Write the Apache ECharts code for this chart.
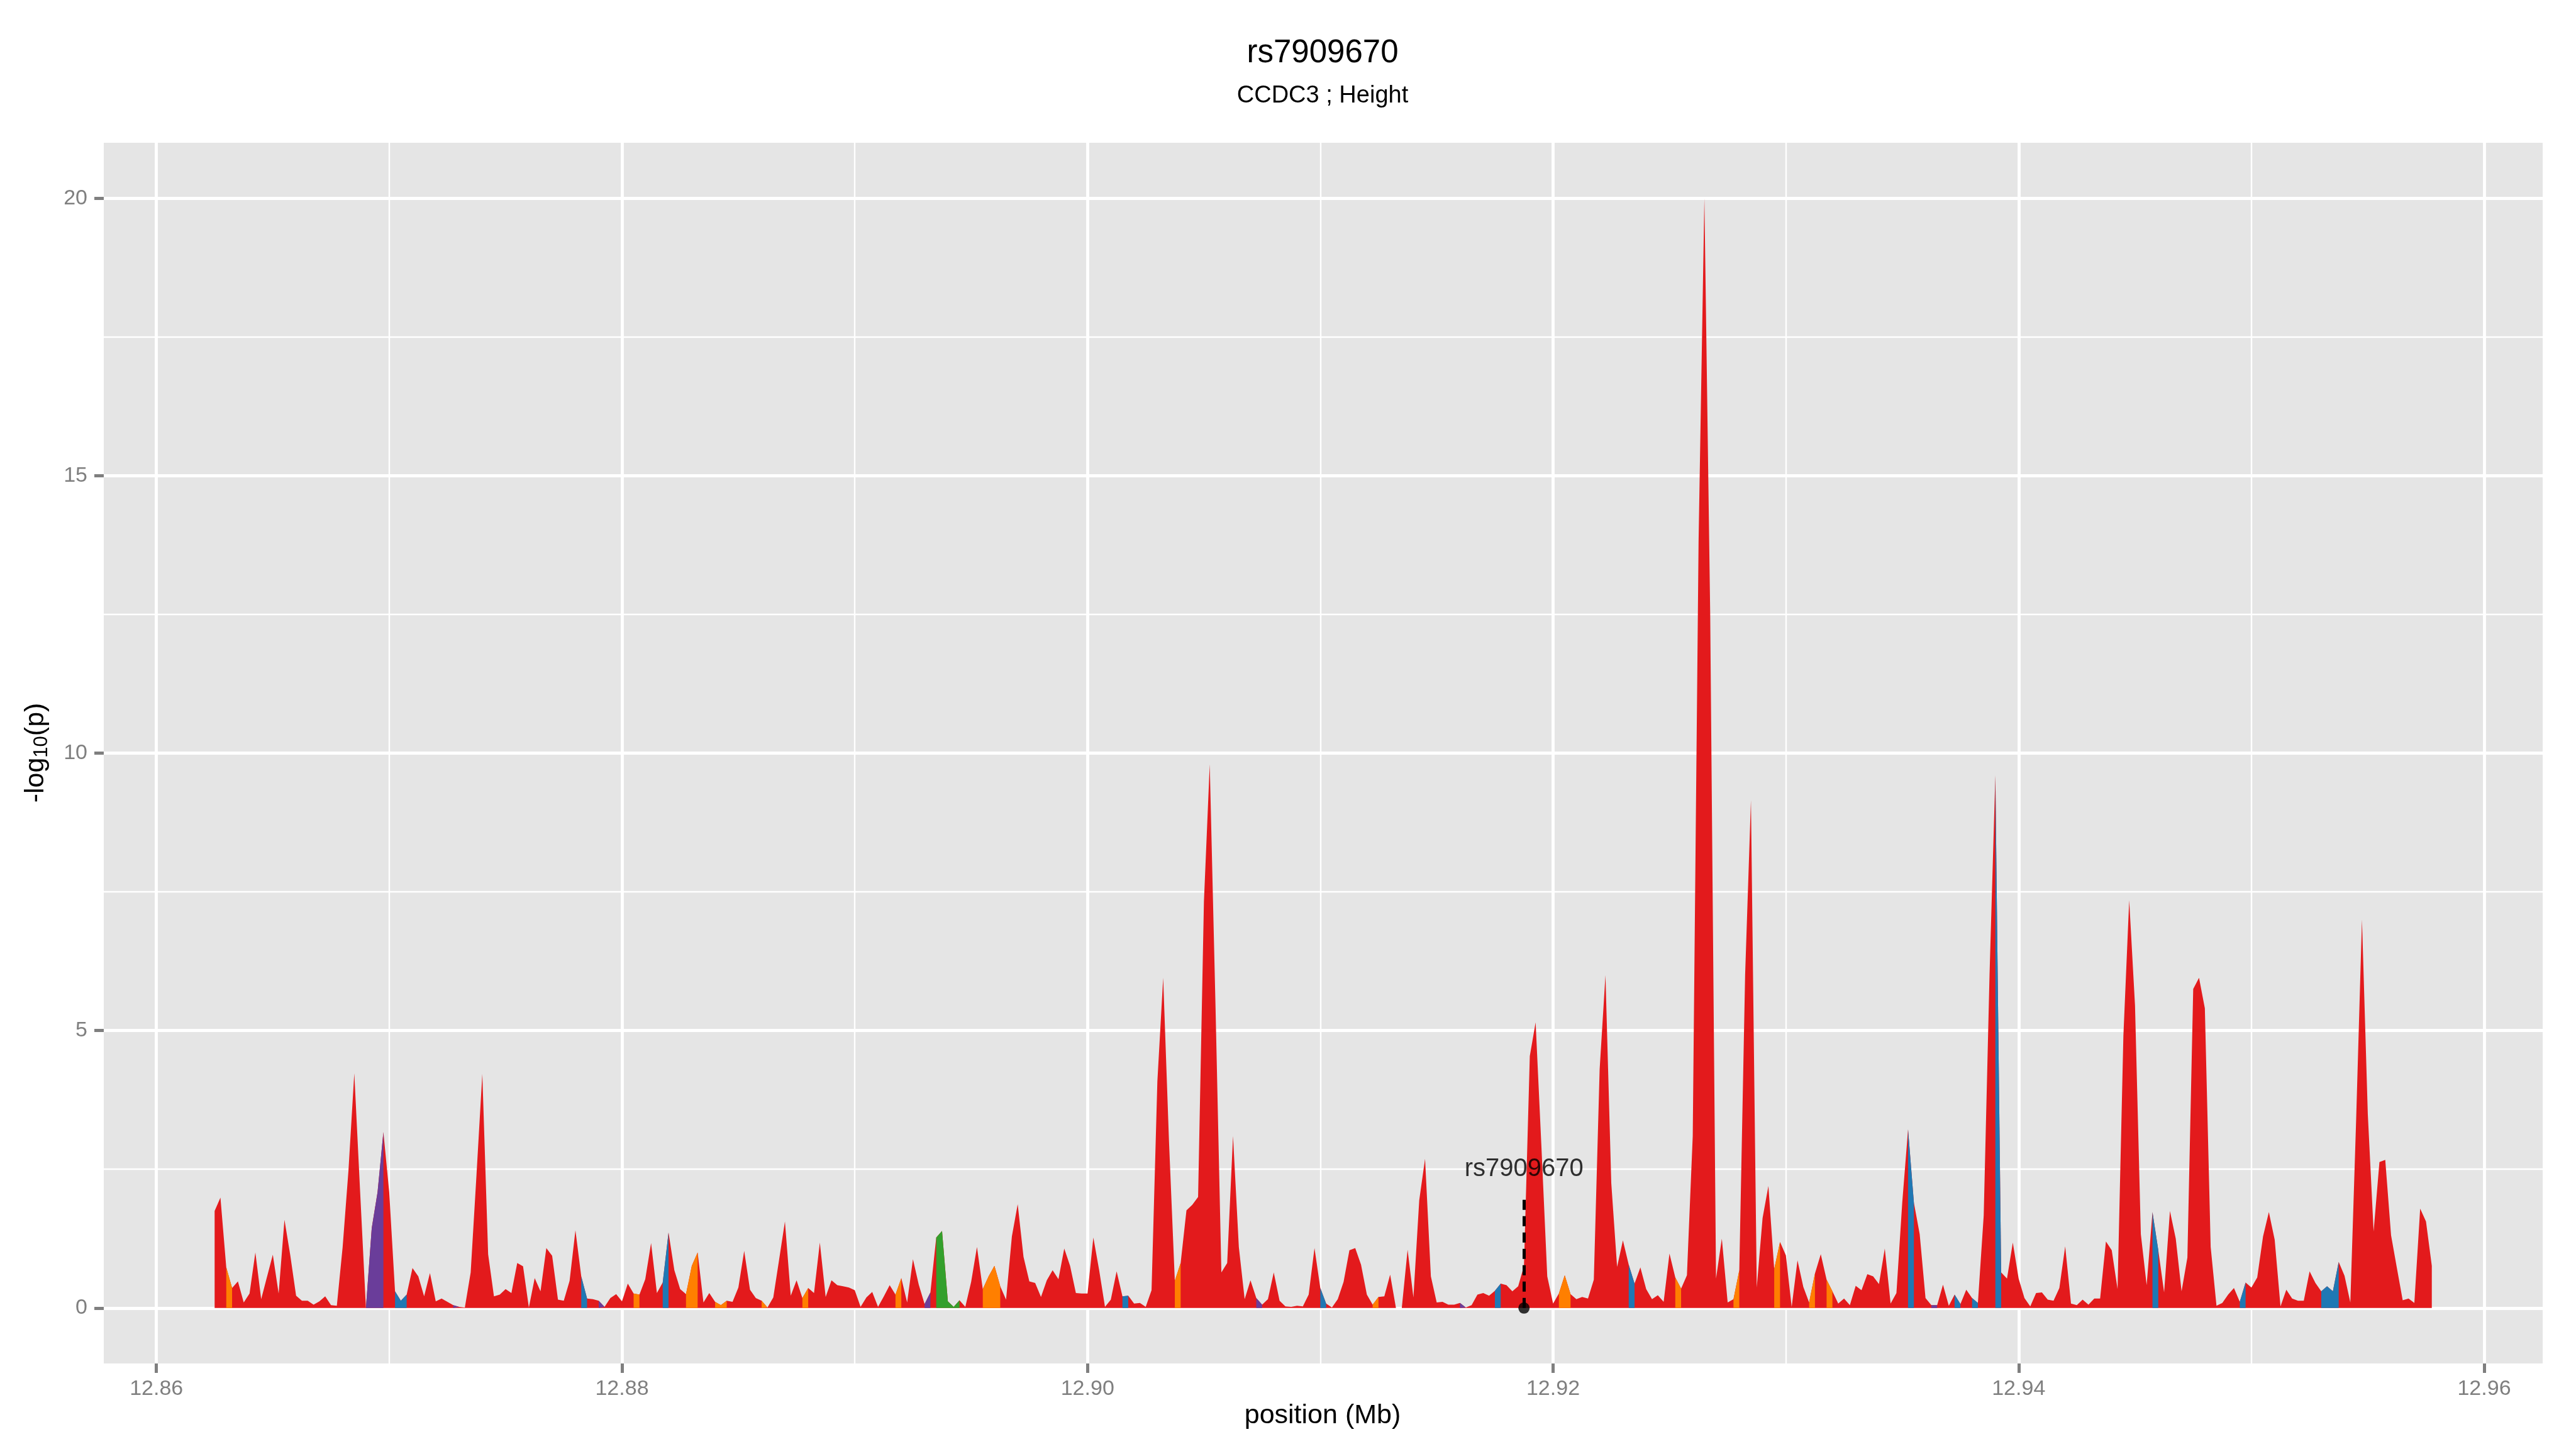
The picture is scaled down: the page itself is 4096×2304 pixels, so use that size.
<!DOCTYPE html>
<html>
<head>
<meta charset="utf-8">
<title>rs7909670</title>
<script src="https://cdn.jsdelivr.net/npm/echarts@6/dist/echarts.min.js"></script>
<style>
  html, body { margin: 0; padding: 0; background: #ffffff; }
  #chart { width: 4096px; height: 2304px; }
</style>
</head>
<body>
<div id="chart"></div>
<script>
// -log10(p), one value every 250 bp starting at 12.8625 Mb
const startMb = 12.8625;
const stepMb = 0.00025;
const logP = [
  1.75, 1.99, 0.73, 0.36, 0.48, 0.10, 0.26, 1.00, 0.16, 0.56,
  0.96, 0.26, 1.59, 0.95, 0.22, 0.13, 0.13, 0.06, 0.12, 0.21,
  0.05, 0.04, 1.10, 2.48, 4.23, 2.10, 0.00, 1.44, 2.09, 3.17,
  2.09, 0.30, 0.13, 0.24, 0.72, 0.57, 0.21, 0.63, 0.12, 0.17,
  0.11, 0.05, 0.02, 0.01, 0.64, 2.40, 4.22, 0.97, 0.21, 0.24,
  0.34, 0.27, 0.81, 0.75, 0.01, 0.54, 0.30, 1.08, 0.94, 0.15,
  0.13, 0.49, 1.40, 0.57, 0.17, 0.16, 0.13, 0.02, 0.18, 0.25,
  0.12, 0.44, 0.26, 0.24, 0.52, 1.17, 0.27, 0.46, 1.36, 0.68,
  0.34, 0.25, 0.76, 1.00, 0.10, 0.27, 0.11, 0.05, 0.13, 0.11,
  0.37, 1.03, 0.33, 0.18, 0.13, 0.01, 0.19, 0.87, 1.56, 0.22,
  0.50, 0.18, 0.36, 0.27, 1.18, 0.20, 0.50, 0.41, 0.39, 0.37,
  0.32, 0.02, 0.19, 0.29, 0.02, 0.21, 0.41, 0.24, 0.54, 0.10,
  0.88, 0.42, 0.07, 0.28, 1.27, 1.39, 0.12, 0.02, 0.14, 0.02,
  0.47, 1.10, 0.34, 0.57, 0.76, 0.39, 0.15, 1.29, 1.87, 0.92,
  0.48, 0.45, 0.20, 0.50, 0.68, 0.52, 1.07, 0.76, 0.27, 0.26,
  0.26, 1.27, 0.68, 0.02, 0.15, 0.66, 0.21, 0.22, 0.08, 0.09,
  0.02, 0.32, 4.08, 5.95, 3.00, 0.49, 0.81, 1.76, 1.86, 2.00,
  7.32, 9.80, 5.40, 0.64, 0.81, 3.10, 1.10, 0.16, 0.50, 0.18,
  0.06, 0.16, 0.64, 0.13, 0.03, 0.02, 0.04, 0.03, 0.24, 1.08,
  0.36, 0.08, 0.01, 0.16, 0.47, 1.04, 1.08, 0.78, 0.24, 0.06,
  0.20, 0.21, 0.60, 0.00, 0.00, 1.05, 0.19, 1.94, 2.69, 0.57,
  0.10, 0.11, 0.06, 0.06, 0.09, 0.01, 0.05, 0.24, 0.27, 0.22,
  0.31, 0.44, 0.41, 0.30, 0.39, 0.76, 4.54, 5.15, 2.90, 0.57,
  0.08, 0.26, 0.59, 0.25, 0.16, 0.20, 0.17, 0.51, 4.30, 6.00,
  2.25, 0.74, 1.22, 0.78, 0.44, 0.73, 0.34, 0.16, 0.23, 0.11,
  0.98, 0.55, 0.35, 0.59, 3.10, 13.80, 20.00, 12.50, 0.53, 1.25,
  0.10, 0.16, 0.68, 6.00, 9.15, 0.37, 1.62, 2.20, 0.70, 1.19,
  0.95, 0.02, 0.86, 0.38, 0.10, 0.62, 0.97, 0.51, 0.30, 0.08,
  0.17, 0.05, 0.40, 0.32, 0.61, 0.57, 0.43, 1.07, 0.08, 0.27,
  1.90, 3.22, 1.90, 1.33, 0.18, 0.05, 0.05, 0.42, 0.04, 0.24,
  0.07, 0.33, 0.18, 0.09, 1.67, 6.00, 9.60, 0.64, 0.53, 1.18,
  0.53, 0.18, 0.03, 0.27, 0.28, 0.15, 0.13, 0.36, 1.11, 0.08,
  0.05, 0.15, 0.06, 0.17, 0.17, 1.20, 1.04, 0.34, 4.90, 7.35,
  5.45, 1.33, 0.41, 1.73, 1.04, 0.28, 1.75, 1.25, 0.30, 0.91,
  5.75, 5.95, 5.40, 1.10, 0.04, 0.09, 0.24, 0.36, 0.11, 0.46,
  0.37, 0.55, 1.29, 1.73, 1.23, 0.03, 0.33, 0.17, 0.13, 0.13,
  0.66, 0.45, 0.30, 0.39, 0.30, 0.83, 0.58, 0.10, 3.40, 7.00,
  3.50, 1.38, 2.63, 2.67, 1.31, 0.72, 0.14, 0.17, 0.09, 1.79,
  1.56, 0.76
];

// segment i joins point i and point i+1; everything not listed is red
const orangeSegs = [2, 72, 81, 82, 86, 87, 94, 101, 117, 132, 133, 134, 165, 199, 231, 232, 251, 261, 268, 274, 277];
const blueSegs = [31, 32, 63, 77, 156, 190, 220, 243, 291, 299, 302, 306, 333, 348, 362, 363, 364];
const purpleSegs = [26, 27, 28, 41, 66, 122, 179, 214, 295];
const greenSegs = [124, 125, 126, 127];

const xTicks = [12.86, 12.88, 12.90, 12.92, 12.94, 12.96];
const yTicks = [0, 5, 10, 15, 20];

const leadSnp = 'rs7909670';
const leadPos = 12.91875;
const leadLineTop = 2;
const leadLabelY = 2.5;

const FONT = '"Liberation Sans", Arial, sans-serif';
const RED = '#E31A1C';

const pts = logP.map((v, i) => [+(startMb + i * stepMb).toFixed(5), v]);

// group consecutive segments into runs
function runsOf(segs) {
  const out = [];
  let cur = null;
  segs.forEach(s => {
    if (cur && s === cur[1] + 1) cur[1] = s;
    else { cur = [s, s]; out.push(cur); }
  });
  return out;
}

function area(data, color, z) {
  return {
    type: 'line',
    data: data,
    symbol: 'none',
    silent: true,
    animation: false,
    z: z,
    lineStyle: { width: 0, opacity: 0 },
    areaStyle: { color: color, opacity: 1 }
  };
}

const series = [area(pts, RED, 2)];
[[orangeSegs, '#FF7F00'], [blueSegs, '#1F78B4'], [purpleSegs, '#6A3D9A'], [greenSegs, '#33A02C']]
  .forEach(([segs, color]) => {
    runsOf(segs).forEach(r => {
      series.push(area(pts.slice(r[0], r[1] + 2), color, 3));
    });
  });

// lead snp: dot, dashed line, label
series.push({
  type: 'scatter',
  data: [[leadPos, 0]],
  symbol: 'circle',
  symbolSize: 18,
  itemStyle: { color: '#000' },
  z: 6,
  silent: true,
  markLine: {
    silent: true,
    symbol: 'none',
    label: { show: false },
    lineStyle: { color: '#000', width: 5, type: [16, 10] },
    data: [[{ coord: [leadPos, 0] }, { coord: [leadPos, leadLineTop] }]]
  }
});
series.push({
  type: 'scatter',
  data: [{ value: [leadPos, leadLabelY], name: leadSnp }],
  symbolSize: 1,
  itemStyle: { color: 'rgba(0,0,0,0)' },
  z: 6,
  silent: true,
  label: {
    show: true, position: 'inside', formatter: '{b}',
    color: '#000', fontSize: 40, fontFamily: FONT,
    textBorderWidth: 0, lineHeight: 40
  }
});

const chart = echarts.init(document.getElementById('chart'));
chart.setOption({
  animation: false,
  backgroundColor: '#ffffff',
  grid: {
    left: 165, top: 227, width: 3878, height: 1941,
    show: true, backgroundColor: '#E5E5E5', borderWidth: 0
  },
  xAxis: {
    type: 'value',
    min: 12.8577375, max: 12.9625125,
    minInterval: 0.02, maxInterval: 0.02,
    axisLine: { show: false, onZero: false },
    axisTick: { show: true, length: 15, customValues: xTicks, lineStyle: { color: '#7F7F7F', width: 5 } },
    axisLabel: {
      customValues: xTicks, formatter: v => v.toFixed(2),
      color: '#7F7F7F', fontSize: 34, fontFamily: FONT, lineHeight: 34, margin: 24
    },
    splitLine: { show: true, lineStyle: { color: '#ffffff', width: 4.8 } },
    minorTick: { show: false, splitNumber: 2 },
    minorSplitLine: { show: true, lineStyle: { color: '#ffffff', width: 2.4 } }
  },
  yAxis: {
    type: 'value',
    min: -1, max: 21,
    minInterval: 5, maxInterval: 5,
    axisLine: { show: false, onZero: false },
    axisTick: { show: true, length: 15, customValues: yTicks, lineStyle: { color: '#7F7F7F', width: 5 } },
    axisLabel: {
      customValues: yTicks,
      color: '#7F7F7F', fontSize: 34, fontFamily: FONT, margin: 26
    },
    splitLine: { show: true, lineStyle: { color: '#ffffff', width: 4.8 } },
    minorTick: { show: false, splitNumber: 2 },
    minorSplitLine: { show: true, lineStyle: { color: '#ffffff', width: 2.4 } }
  },
  graphic: [
    {
      type: 'text', x: 2103, y: 85, silent: true,
      style: { text: leadSnp, fontSize: 51, fontFamily: FONT, fill: '#000', align: 'center', verticalAlign: 'middle', lineHeight: 51 }
    },
    {
      type: 'text', x: 2103, y: 153, silent: true,
      style: { text: 'CCDC3 ; Height', fontSize: 38, fontFamily: FONT, fill: '#000', align: 'center', verticalAlign: 'middle', lineHeight: 38 }
    },
    {
      type: 'text', x: 2103, y: 2251, silent: true,
      style: { text: 'position (Mb)', fontSize: 43, fontFamily: FONT, fill: '#000', align: 'center', verticalAlign: 'middle', lineHeight: 43 }
    },
    {
      type: 'text', x: 57, y: 1197, rotation: Math.PI / 2, silent: true,
      style: {
        text: '{m|-log}{s|10}{m|(p)}',
        align: 'center', verticalAlign: 'middle', fill: '#000',
        rich: {
          m: { fontSize: 43, fontFamily: FONT, lineHeight: 50, fill: '#000' },
          s: { fontSize: 31, fontFamily: FONT, lineHeight: 31, verticalAlign: 'bottom', fill: '#000' }
        }
      }
    }
  ],
  series: series
});
</script>
</body>
</html>
